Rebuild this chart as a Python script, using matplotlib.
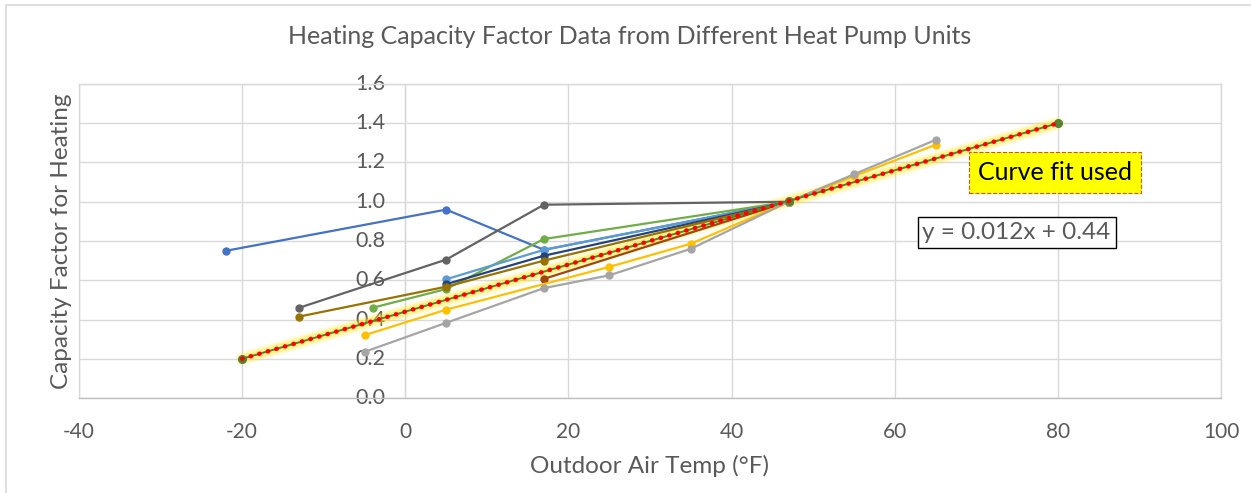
import matplotlib
matplotlib.use("Agg")
import matplotlib.pyplot as plt
from matplotlib.patches import Rectangle

plt.rcParams['font.family'] = ['Lato', 'DejaVu Sans']

# ---- data ----
blue_x = [-22, 5, 17, 47]
blue_y = [0.75, 0.96, 0.755, 1.0]
dgray_x = [-13, 5, 17, 47]
dgray_y = [0.46, 0.705, 0.985, 1.0]
green_x = [-4, 5, 17, 47]
green_y = [0.46, 0.555, 0.81, 1.0]
lblue_x = [5, 17, 47]
lblue_y = [0.605, 0.755, 1.0]
dblue_x = [5, 17, 47]
dblue_y = [0.58, 0.725, 1.0]
dgold_x = [-13, 5, 17, 47]
dgold_y = [0.415, 0.567, 0.70, 1.0]
brown_x = [17, 47]
brown_y = [0.607, 1.0]
gold_x = [-5, 5, 25, 35, 47, 55, 65]
gold_y = [0.32, 0.45, 0.668, 0.786, 1.0, 1.13, 1.29]
gray_x = [-5, 5, 17, 25, 35, 47, 55, 65]
gray_y = [0.235, 0.383, 0.56, 0.625, 0.76, 1.0, 1.14, 1.315]
fit_x = [-20, 47, 80]
fit_y = [0.2, 1.004, 1.4]

series = [
    (blue_x, blue_y, '#4472C4'),
    (dgray_x, dgray_y, '#636363'),
    (green_x, green_y, '#70AD47'),
    (lblue_x, lblue_y, '#5B9BD5'),
    (dblue_x, dblue_y, '#264478'),
    (dgold_x, dgold_y, '#997300'),
    (brown_x, brown_y, '#9E480E'),
    (gold_x, gold_y, '#FFC000'),
    (gray_x, gray_y, '#A5A5A5'),
]

title = "Heating Capacity Factor Data from Different Heat Pump Units"
xlabel = "Outdoor Air Temp (°F)"
ylabel = "Capacity Factor for Heating"
xticks = [-40, -20, 0, 20, 40, 60, 80, 100]
yticks = [0.0, 0.2, 0.4, 0.6, 0.8, 1.0, 1.2, 1.4, 1.6]

W, H = 1251, 493
fig = plt.figure(figsize=(W / 100, H / 100), dpi=100)
fig.patch.set_facecolor('white')

# chart-area border (left & top visible)
fig.add_artist(Rectangle((6 / W, -0.05), 1.2, (493 - 5) / H + 0.05,
                         transform=fig.transFigure, fill=False,
                         edgecolor='#D9D9D9', lw=1.2))

ax = fig.add_axes([79 / W, (H - 398) / H, (1221 - 79) / W, (398 - 84) / H])
ax.set_xlim(-40, 100)
ax.set_ylim(0, 1.6)
ax.set_xticks(xticks)
ax.set_yticks(yticks)
ax.grid(True, color='#D9D9D9', lw=1.0)
ax.set_axisbelow(True)
for s in ['top', 'right', 'left']:
    ax.spines[s].set_color('#D9D9D9')
    ax.spines[s].set_linewidth(1.0)
ax.spines['bottom'].set_color('#BFBFBF')
ax.spines['bottom'].set_linewidth(1.0)
ax.tick_params(axis='both', length=0, colors='#595959', labelsize=15)
ax.tick_params(axis='x', pad=17)
ax.set_xticklabels([f"{v}" for v in xticks])
ax.set_yticklabels([])
# y tick labels placed next to the x=0 axis
for v in yticks:
    ax.text(-2.4, v, f"{v:.1f}", ha='right', va='center', fontsize=15.5,
            color='#595959', zorder=1)
ax.axvline(0, color='#D9D9D9', lw=1.0, zorder=0.5)

# fit line: yellow glow, green line, red dots
for lw_, a_ in [(10, 0.12), (7.5, 0.18), (5, 0.3)]:
    ax.plot(fit_x, fit_y, color='#FFE600', lw=lw_, alpha=a_,
            solid_capstyle='round', zorder=2)
for x, y, c in series:
    ax.plot(x, y, color=c, lw=1.6, marker='o', ms=5, zorder=3)
ax.plot(fit_x, fit_y, color='#548235', lw=1.4, marker='o', ms=5.5,
        markeredgecolor='#548235', markerfacecolor='#548235', zorder=4)
ax.plot(fit_x, fit_y, color='#FF0000', lw=3.2, linestyle=(0, (0.1, 1.9)),
        dash_capstyle='round', zorder=5)

# annotations
ax.text(70.2, 1.15, "Curve fit used", fontsize=18, color='black',
        ha='left', va='center',
        bbox=dict(boxstyle='square,pad=0.35', facecolor='#FFFF00',
                  edgecolor='#C55A11', linestyle='--', lw=0.8), zorder=6)
ax.text(63.4, 0.845, "y = 0.012x + 0.44", fontsize=17.5, color='#595959',
        ha='left', va='center',
        bbox=dict(boxstyle='square,pad=0.2', facecolor='white',
                  edgecolor='black', lw=1.0), zorder=6)

fig.text(630 / W, 1 - 37 / H, title, ha='center', va='center',
         fontsize=18, color='#595959')
fig.text(650 / W, 1 - 466 / H, xlabel, ha='center', va='center',
         fontsize=17.5, color='#595959')
fig.text(62 / W, 1 - 241 / H, ylabel, ha='center', va='center',
         rotation=90, fontsize=17.5, color='#595959')

fig.savefig('out.png', dpi=100, facecolor='white')
